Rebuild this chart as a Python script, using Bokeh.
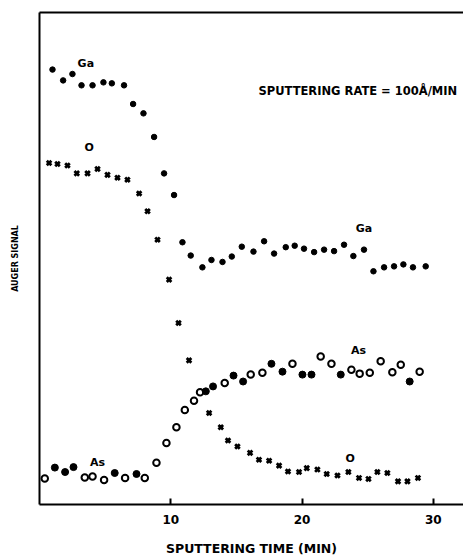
from bokeh.plotting import figure
from bokeh.models import LinearAxis, FixedTicker, Range1d, ColumnDataSource
from bokeh.core.properties import value
from bokeh.embed import file_html
from bokeh.resources import INLINE

# Ga signal (filled dots)
ga_x = [0.99, 1.80, 2.51, 3.20, 4.04, 4.87, 5.51, 6.44, 7.13, 7.92, 8.73, 9.49, 10.25,
        10.89, 11.52, 12.41, 13.10, 13.94, 14.65, 15.41, 16.30, 17.11, 17.87, 18.76,
        19.44, 20.15, 20.92, 21.68, 22.44, 23.20, 23.91, 24.72, 25.44, 26.25, 27.01,
        27.72, 28.45, 29.42]
ga_y = [88.4, 86.2, 87.5, 85.2, 85.2, 85.8, 85.6, 85.2, 81.4, 79.5, 74.7, 67.3, 62.9,
        53.3, 50.6, 48.2, 49.7, 49.3, 50.4, 52.4, 51.4, 53.5, 51.0, 52.3,
        52.6, 52.0, 51.3, 51.8, 51.5, 52.8, 50.5, 51.8, 47.4, 48.2, 48.4,
        48.8, 48.2, 48.4]

# O signal (crosses)
o_x = [0.73, 1.37, 2.13, 2.84, 3.66, 4.42, 5.18, 5.94, 6.70, 7.59, 8.23, 8.99, 9.87,
       10.59, 11.39, 12.21, 12.92, 13.81, 14.36, 15.08, 16.04, 16.72, 17.49, 18.25,
       18.93, 19.77, 20.36, 21.17, 21.88, 22.70, 23.53, 24.34, 25.06, 25.74, 26.50,
       27.31, 28.03, 28.83]
o_y = [69.4, 69.2, 68.9, 67.3, 67.3, 68.2, 67.0, 66.4, 66.0, 63.2, 59.6, 53.8, 45.7,
       36.9, 29.3, 22.8, 18.6, 15.7, 13.0, 11.8, 10.5, 9.1, 8.9, 7.9,
       6.7, 6.6, 7.4, 7.1, 6.2, 5.9, 6.6, 5.4, 5.2, 6.6, 6.4,
       4.7, 4.7, 5.4]

# As signal (circles), open and filled symbols
as_open_x = [0.40, 3.45, 4.04, 4.92, 6.52, 8.02, 8.91, 9.67, 10.43, 11.07, 11.77,
             12.23, 14.11, 16.09, 16.98, 19.27, 21.42, 22.24, 23.76, 24.39, 25.16,
             25.99, 26.88, 27.52, 28.96]
as_open_y = [5.3, 5.5, 5.7, 5.0, 5.4, 5.4, 8.5, 12.5, 15.7, 19.2, 21.1,
             22.8, 24.7, 26.4, 26.8, 28.6, 30.1, 28.6, 27.4, 26.6, 26.8,
             29.1, 26.9, 28.4, 27.0]
as_fill_x = [1.17, 1.95, 2.59, 5.73, 7.39, 12.67, 13.22, 14.78, 15.51, 17.67, 18.51,
             20.03, 20.72, 22.95, 28.20]
as_fill_y = [7.5, 6.6, 7.6, 6.4, 6.2, 23.0, 24.0, 26.2, 25.0, 28.6, 27.0,
             26.4, 26.4, 26.4, 25.0]

x_ticks = [10, 20, 30]

label_text = ["Ga", "O", "Ga", "As", "As", "O"]
label_x = [3.53, 3.78, 24.72, 24.30, 4.42, 23.66]
label_y = [89.6, 72.6, 56.0, 31.4, 8.6, 9.4]

note_text = ["SPUTTERING RATE = 100\u00c5/MIN"]
note_x = [24.25]
note_y = [84.1]

FONT = "DejaVu Sans"

p = figure(frame_width=424, frame_height=492, output_backend="svg", toolbar_location=None,
           x_range=Range1d(0, 32.3), y_range=Range1d(0, 100),
           min_border_left=39, min_border_right=0, min_border_top=12, min_border_bottom=10)
p.outline_line_color = None
p.grid.visible = False
p.background_fill_color = "white"
p.border_fill_color = "white"

xa = p.xaxis[0]
xa.ticker = FixedTicker(ticks=x_ticks)
xa.minor_tick_line_color = None
xa.major_tick_in = 6
xa.major_tick_out = 0
xa.major_tick_line_width = 2
xa.axis_line_width = 2
xa.major_label_standoff = 10
xa.major_label_text_font = FONT
xa.major_label_text_font_style = "bold"
xa.major_label_text_font_size = "12px"
xa.major_label_text_color = "black"
xa.axis_label = "SPUTTERING TIME (MIN)"
xa.axis_label_text_font = FONT
xa.axis_label_text_font_style = "bold"
xa.axis_label_text_font_size = "12.5px"
xa.axis_label_text_color = "black"
xa.axis_label_standoff = 14

ya = p.yaxis[0]
ya.ticker = FixedTicker(ticks=[])
ya.minor_tick_line_color = None
ya.major_tick_line_color = None
ya.major_label_standoff = 0
ya.axis_line_width = 2
ya.axis_label = "AUGER SIGNAL"
ya.axis_label_text_font = FONT
ya.axis_label_text_font_style = "bold"
ya.axis_label_text_font_size = "8px"
ya.axis_label_text_color = "black"
ya.axis_label_standoff = 20

top = LinearAxis(ticker=FixedTicker(ticks=[]), major_tick_line_color=None,
                 minor_tick_line_color=None, major_label_standoff=0,
                 axis_line_width=2)
p.add_layout(top, "above")

p.scatter(ga_x, ga_y, marker="circle", size=5.5, color="black")
p.scatter(o_x, o_y, marker="x", size=6.5, line_color="black", line_width=2.8)
p.scatter(as_open_x, as_open_y, marker="circle", size=6.5, line_color="black",
          line_width=2, fill_color="white")
p.scatter(as_fill_x, as_fill_y, marker="circle", size=7, color="black")

src = ColumnDataSource(dict(x=label_x, y=label_y, t=label_text))
p.text(x="x", y="y", text="t", source=src, text_font=value(FONT), text_font_style="bold",
       text_font_size="11px", text_align="center", text_baseline="middle", text_color="black")

src2 = ColumnDataSource(dict(x=note_x, y=note_y, t=note_text))
p.text(x="x", y="y", text="t", source=src2, text_font=value(FONT), text_font_style="bold",
       text_font_size="11.5px", text_align="center", text_baseline="middle", text_color="black")

open("out.html", "w").write(file_html(p, INLINE))
